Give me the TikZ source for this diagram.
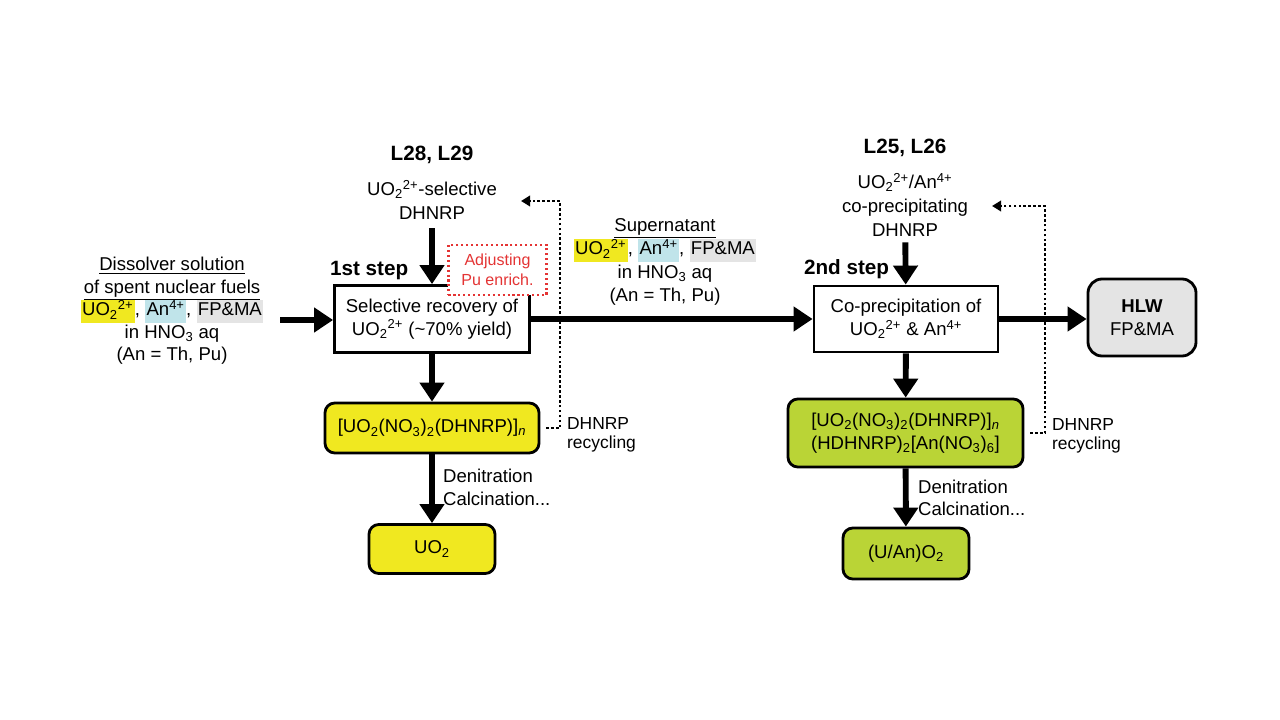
\documentclass[tikz,border=0pt]{standalone}
\usepackage{fontspec}
\setmainfont{Liberation Sans}
\usepackage{xcolor}
\usetikzlibrary{positioning, arrows.meta}

\definecolor{uyel}{RGB}{240,232,32}
\definecolor{ublue}{RGB}{192,228,234}
\definecolor{ugray}{RGB}{228,228,228}
\definecolor{ugreen}{RGB}{186,212,54}
\definecolor{ured}{RGB}{228,52,52}

\newcommand{\hlbox}[2]{{\setlength{\fboxsep}{0pt}\colorbox{#1}{\strut\kern1pt#2\kern1pt}}}
\newcommand{\uoion}{UO\textsubscript{2}\textsuperscript{2+}}
\newcommand{\anion}{An\textsuperscript{4+}}
\newcommand{\nit}{NO\textsubscript{3}}

\tikzset{
  lab/.style={align=center, inner sep=2pt, font=\fontsize{13.2}{16}\selectfont},
  boldlab/.style={lab, font=\bfseries\fontsize{14.7}{16}\selectfont},
  stepbox/.style={lab, draw, line width=2pt, fill=white},
  prodbox/.style={lab, draw, line width=2pt, rounded corners=7pt},
  reclab/.style={lab, align=left, anchor=west, font=\fontsize{12.4}{13.5}\selectfont},
  flow/.style={line width=4.2pt, -{Triangle[length=13.5pt,width=17pt]}},
  recyc/.style={line width=1.9pt, dash pattern=on 1.9pt off 1.6pt, -{Triangle[length=6.5pt,width=7.5pt]}},
}

\begin{document}
\begin{tikzpicture}[x=0.025cm, y=-0.025cm]
  \useasboundingbox (0,0) rectangle (1280,720);

  % process steps
  \node[stepbox, minimum width=4.875cm, minimum height=1.675cm] (s1) at (432,319) {Selective recovery of\\\uoion{} (\textasciitilde70\% yield)};
  \node[stepbox, minimum width=4.6cm, minimum height=1.65cm] (s2) at (906,319) {Co-precipitation of\\\uoion{} \& \anion};
  \node[prodbox, fill=ugray, rounded corners=10pt, minimum width=2.7cm, minimum height=1.925cm] (hlw) at (1142,317.5) {\textbf{HLW}\\FP\&MA};

  \node[boldlab, anchor=west] (st1) at (327,271) {1st step};
  \node[boldlab, anchor=west] (st2) at (801,269) {2nd step};

  \node[lab, draw=ured, text=ured, fill=white, line width=1.5pt, dash pattern=on 1.5pt off 2pt, minimum width=2.45cm, minimum height=1.25cm, font=\fontsize{11.4}{14}\selectfont] (adj) at (497.5,270) {Adjusting\\Pu enrich.};

  % ligands
  \node[boldlab] (L1) at (432,155) {L28, L29};
  \node[lab, font=\fontsize{13.2}{17}\selectfont] (lig1) at (432,200) {\uoion-selective\\DHNRP};
  \node[boldlab] (L2) at (905,148) {L25, L26};
  \node[lab, font=\fontsize{13.2}{17}\selectfont] (lig2) at (905,205) {\uoion/\anion\\co-precipitating\\DHNRP};

  % solutions
  \node[lab] (feed) at (172,311) {\underline{Dissolver solution}\\\underline{of spent nuclear fuels}\\\hlbox{uyel}{\uoion}, \hlbox{ublue}{\anion}, \hlbox{ugray}{FP\&MA}\\in HNO\textsubscript{3} aq\\(An = Th, Pu)};
  \node[lab, font=\fontsize{13.2}{16.5}\selectfont] (sup) at (665,262) {\underline{Supernatant}\\\hlbox{uyel}{\uoion}, \hlbox{ublue}{\anion}, \hlbox{ugray}{FP\&MA}\\in HNO\textsubscript{3} aq\\(An = Th, Pu)};

  % precipitates and oxides
  \node[prodbox, fill=uyel, minimum width=5.35cm, minimum height=1.25cm] (p1) at (432,428) {[UO\textsubscript{2}(\nit)\textsubscript{2}(DHNRP)]\textsubscript{\textit{n}}};
  \node[prodbox, fill=uyel, minimum width=3.15cm, minimum height=1.225cm] (o1) at (432,549) {UO\textsubscript{2}};
  \node[prodbox, fill=ugreen, minimum width=5.875cm, minimum height=1.7cm] (p2) at (905.5,433) {[UO\textsubscript{2}(\nit)\textsubscript{2}(DHNRP)]\textsubscript{\textit{n}}\\(HDHNRP)\textsubscript{2}[An(\nit)\textsubscript{6}]};
  \node[prodbox, fill=ugreen, minimum width=3.15cm, minimum height=1.275cm] (o2) at (906,553.5) {(U/An)O\textsubscript{2}};

  \node[lab, align=left, anchor=west] (den1) at (440,487.5) {Denitration\\Calcination...};
  \node[lab, align=left, anchor=west] (den2) at (915,498) {Denitration\\Calcination...};
  \node[reclab] (rec1) at (564,435) {DHNRP\\recycling};
  \node[reclab] (rec2) at (1049,436) {DHNRP\\recycling};

  % flow arrows
  \coordinate (in) at (280,320);
  \draw[flow] (in) -- (s1.west |- in);
  \draw[flow] (s1.east) -- (s2.west);
  \draw[flow] (s2.east) -- (hlw.west |- s2.east);
  \draw[flow, shorten <=4pt] (lig1) -- (s1);
  \draw[flow, shorten <=2pt] (lig2) -- (s2);
  \draw[flow] (s1) -- (p1);
  \draw[flow] (p1) -- (o1);
  \draw[flow] (s2) -- (p2);
  \draw[flow] (p2) -- (o2);

  % recycling
  \coordinate (r1top) at (560,201);
  \coordinate (r1tip) at (521,201);
  \coordinate (r2top) at (1045,206);
  \coordinate (r2tip) at (992,206);
  \draw[recyc, shorten <=4pt] (p1.east) -| (r1top) -- (r1tip);
  \draw[recyc, shorten <=4pt] (p2.east) -| (r2top) -- (r2tip);
\end{tikzpicture}
\end{document}
